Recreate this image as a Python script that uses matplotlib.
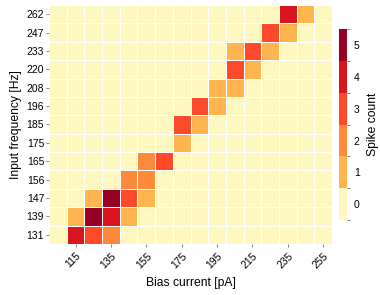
import numpy as np
import matplotlib
matplotlib.use("Agg")
import matplotlib.pyplot as plt
from matplotlib.colors import ListedColormap, BoundaryNorm

plt.rcParams["font.family"] = ["Liberation Sans", "DejaVu Sans"]

bias_currents = [105, 115, 125, 135, 145, 155, 165, 175, 185, 195, 205, 215, 225, 235, 245, 255]
frequencies = [131, 139, 147, 156, 165, 175, 185, 196, 208, 220, 233, 247, 262]

# one row per frequency (bottom to top), one column per bias current
spike_counts = [
    [0, 4, 3, 2, 0, 0, 0, 0, 0, 0, 0, 0, 0, 0, 0, 0],  # 131
    [0, 1, 5, 4, 1, 0, 0, 0, 0, 0, 0, 0, 0, 0, 0, 0],  # 139
    [0, 0, 1, 5, 3, 1, 0, 0, 0, 0, 0, 0, 0, 0, 0, 0],  # 147
    [0, 0, 0, 0, 2, 2, 0, 0, 0, 0, 0, 0, 0, 0, 0, 0],  # 156
    [0, 0, 0, 0, 0, 2, 3, 0, 0, 0, 0, 0, 0, 0, 0, 0],  # 165
    [0, 0, 0, 0, 0, 0, 0, 1, 0, 0, 0, 0, 0, 0, 0, 0],  # 175
    [0, 0, 0, 0, 0, 0, 0, 3, 1, 0, 0, 0, 0, 0, 0, 0],  # 185
    [0, 0, 0, 0, 0, 0, 0, 0, 3, 1, 0, 0, 0, 0, 0, 0],  # 196
    [0, 0, 0, 0, 0, 0, 0, 0, 0, 1, 1, 0, 0, 0, 0, 0],  # 208
    [0, 0, 0, 0, 0, 0, 0, 0, 0, 0, 3, 1, 0, 0, 0, 0],  # 220
    [0, 0, 0, 0, 0, 0, 0, 0, 0, 0, 1, 3, 1, 0, 0, 0],  # 233
    [0, 0, 0, 0, 0, 0, 0, 0, 0, 0, 0, 0, 3, 1, 0, 0],  # 247
    [0, 0, 0, 0, 0, 0, 0, 0, 0, 0, 0, 0, 0, 4, 1, 0],  # 262
]
count_levels = [0, 1, 2, 3, 4, 5]

colors = ["#fff7bf", "#feb54f", "#fd8a3b", "#fc4a2a", "#d9151f", "#990026"]
cmap = ListedColormap(colors)
norm = BoundaryNorm(np.arange(-0.5, 6.5, 1), cmap.N)

fig = plt.figure(figsize=(3.8, 2.95), dpi=100)
ax = fig.add_axes([0.129, 0.173, 0.745, 0.810])
cax = fig.add_axes([0.892, 0.254, 0.021, 0.647])

data = np.array(spike_counts)
mesh = ax.pcolormesh(np.arange(len(bias_currents) + 1) - 0.5,
                     np.arange(len(frequencies) + 1) - 0.5,
                     data, cmap=cmap, norm=norm,
                     edgecolors="white", linewidth=0.6)

xt = list(range(1, len(bias_currents), 2))
ax.set_xticks(xt)
ax.set_xticklabels([str(bias_currents[i]) for i in xt], rotation=45,
                   ha="right", rotation_mode="anchor", fontsize=7.5)
ax.set_yticks(range(len(frequencies)))
ax.set_yticklabels([str(f) for f in frequencies], fontsize=7.5)
ax.tick_params(length=2, width=0.5, color="#555555", pad=1.5)
ax.tick_params(axis="x", pad=3)
for s in ax.spines.values():
    s.set_visible(False)
ax.set_xlabel("Bias current [pA]", fontsize=8.7, labelpad=5)
ax.set_ylabel("Input frequency [Hz]", fontsize=8.7, labelpad=3)

cb = fig.colorbar(mesh, cax=cax, ticks=count_levels)
cb.outline.set_visible(False)
cb.ax.set_yticklabels([str(c) for c in count_levels], fontsize=7.5)
cb.ax.tick_params(length=0, pad=5)
cb.ax.set_yticks(np.arange(-0.5, 6.0, 1), minor=True)
cb.ax.tick_params(which="minor", length=2, width=0.5, color="#555555")
cb.set_label("Spike count", fontsize=8.7, labelpad=5)

fig.savefig("out.png", dpi=100)
